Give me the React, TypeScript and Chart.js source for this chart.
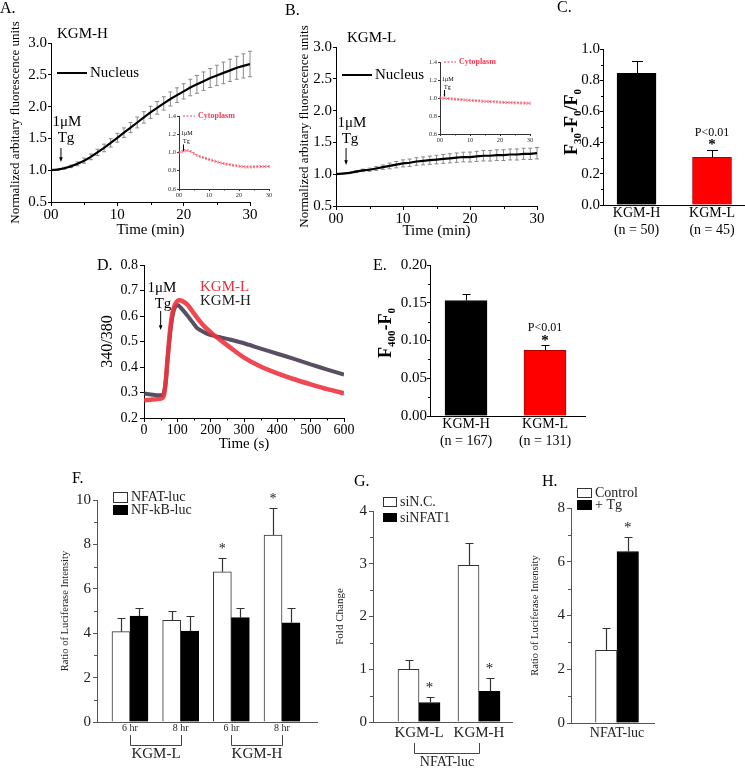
import React, { useEffect, useRef } from 'react';
import { Chart, registerables } from 'chart.js';
Chart.register(...registerables);

const W = 745;
const H = 768;
const SERIF = '"Liberation Serif", "Times New Roman", Times, serif';

// ---------------- data ----------------
const minutes = [0, 1, 2, 3, 4, 5, 6, 7, 8, 9, 10, 11, 12, 13, 14, 15, 16, 17, 18, 19, 20, 21, 22, 23, 24, 25, 26, 27, 28, 29, 30];
const nucleusKGMH = [1.0, 1.01, 1.03, 1.06, 1.1, 1.15, 1.21, 1.28, 1.35, 1.43, 1.51, 1.59, 1.67, 1.75, 1.83, 1.91, 1.98, 2.05, 2.12, 2.18, 2.24, 2.3, 2.35, 2.4, 2.45, 2.49, 2.53, 2.57, 2.61, 2.64, 2.67];
const nucleusKGMHErr = [0, 0.01, 0.015, 0.02, 0.03, 0.04, 0.045, 0.05, 0.06, 0.065, 0.07, 0.075, 0.08, 0.085, 0.09, 0.095, 0.1, 0.105, 0.11, 0.115, 0.12, 0.13, 0.14, 0.145, 0.15, 0.16, 0.17, 0.175, 0.18, 0.19, 0.2];
const nucleusKGML = [1.0, 1.01, 1.02, 1.04, 1.06, 1.07, 1.09, 1.11, 1.13, 1.15, 1.17, 1.18, 1.2, 1.21, 1.22, 1.23, 1.24, 1.25, 1.26, 1.27, 1.27, 1.28, 1.29, 1.29, 1.3, 1.3, 1.31, 1.31, 1.32, 1.32, 1.33];
const nucleusKGMLErr = [0, 0.005, 0.01, 0.015, 0.02, 0.025, 0.03, 0.035, 0.045, 0.05, 0.055, 0.058, 0.06, 0.062, 0.065, 0.067, 0.07, 0.072, 0.074, 0.076, 0.078, 0.08, 0.082, 0.083, 0.084, 0.085, 0.086, 0.087, 0.088, 0.089, 0.09];
const cytoKGMH = [1.0, 1.01, 1.02, 1.02, 1.01, 0.99, 0.97, 0.955, 0.945, 0.935, 0.925, 0.915, 0.905, 0.895, 0.885, 0.878, 0.872, 0.866, 0.86, 0.855, 0.85, 0.846, 0.843, 0.842, 0.842, 0.843, 0.844, 0.845, 0.846, 0.847, 0.848];
const cytoKGML = [1.0, 0.998, 0.996, 0.993, 0.99, 0.987, 0.984, 0.982, 0.979, 0.977, 0.975, 0.972, 0.97, 0.968, 0.966, 0.964, 0.962, 0.96, 0.958, 0.956, 0.954, 0.952, 0.951, 0.949, 0.948, 0.947, 0.946, 0.945, 0.944, 0.943, 0.942];
const tgMinute = 1.5;
const minuteTicks = [0, 10, 20, 30];
const nucleusTicksY = [0.5, 1.0, 1.5, 2.0, 2.5, 3.0];
const insetTicksY = [0.6, 0.8, 1.0, 1.2, 1.4];

const cGroups = ['KGM-H', 'KGM-L'];
const cNs = ['(n = 50)', '(n = 45)'];
const cValues = [0.844, 0.305];
const cErrs = [0.076, 0.05];
const cTicksY = [0, 0.2, 0.4, 0.6, 0.8, 1.0];

const dTimes = [0, 20, 40, 55, 60, 65, 70, 75, 80, 85, 90, 95, 100, 105, 110, 120, 130, 140, 150, 160, 175, 190, 210, 230, 260, 300, 350, 400, 450, 500, 550, 600];
const dKGMH = [0.296, 0.292, 0.289, 0.29, 0.3, 0.34, 0.42, 0.49, 0.55, 0.595, 0.625, 0.638, 0.642, 0.64, 0.633, 0.618, 0.602, 0.585, 0.568, 0.552, 0.54, 0.53, 0.522, 0.516, 0.507, 0.493, 0.472, 0.452, 0.432, 0.41, 0.39, 0.37];
const dKGML = [0.27, 0.272, 0.274, 0.278, 0.29, 0.34, 0.42, 0.5, 0.565, 0.61, 0.635, 0.65, 0.658, 0.662, 0.661, 0.655, 0.645, 0.628, 0.61, 0.592, 0.568, 0.548, 0.525, 0.505, 0.475, 0.437, 0.402, 0.375, 0.352, 0.332, 0.313, 0.297];
const tgSecond = 50;
const dTicksX = [0, 100, 200, 300, 400, 500, 600];
const dTicksY = [0.2, 0.3, 0.4, 0.5, 0.6, 0.7, 0.8];

const eGroups = ['KGM-H', 'KGM-L'];
const eNs = ['(n = 167)', '(n = 131)'];
const eValues = [0.153, 0.087];
const eErrs = [0.008, 0.007];
const eTicksY = [0, 0.05, 0.1, 0.15, 0.2];

const fTimes = ['6 hr', '8 hr', '6 hr', '8 hr'];
const fCells = ['KGM-L', 'KGM-H'];
const fNFAT = [4.07, 4.58, 6.77, 8.42];
const fNFATErr = [0.63, 0.41, 0.6, 1.22];
const fNFkB = [4.77, 4.1, 4.7, 4.47];
const fNFkBErr = [0.36, 0.68, 0.43, 0.66];
const fSig = [false, false, true, true];
const fTicksY = [0, 2, 4, 6, 8, 10];

const gCells = ['KGM-L', 'KGM-H'];
const gSiNC = [1.0, 2.97];
const gSiNCErr = [0.17, 0.43];
const gSiNFAT1 = [0.37, 0.58];
const gSiNFAT1Err = [0.11, 0.25];
const gTicksY = [0, 1, 2, 3, 4];

const hGroups = ['NFAT-luc'];
const hControl = [2.7];
const hControlErr = [0.82];
const hTg = [6.38];
const hTgErr = [0.55];
const hTicksY = [0, 2, 4, 6, 8];

// ---------------- helpers ----------------
type Box = { l: number; t: number; r: number; b: number; yw: number; xh: number };

function base(box: Box, scales: any) {
  return {
    responsive: false,
    animation: false,
    events: [],
    layout: { padding: { left: box.l - box.yw, top: box.t, right: W - box.r, bottom: H - box.b - box.xh } },
    plugins: { legend: { display: false }, tooltip: { enabled: false }, title: { display: false } },
    scales,
  };
}

function axis(o: any) {
  const color = o.color ?? '#000';
  const line = o.lineColor ?? color;
  const tick = o.tick ?? 4;
  return {
    type: 'linear',
    position: o.pos,
    min: o.min,
    max: o.max,
    offset: false,
    afterBuildTicks: o.values ? (s: any) => { s.ticks = o.values.map((v: number) => ({ value: v })); } : undefined,
    ticks: {
      autoSkip: false, maxRotation: 0, minRotation: 0,
      padding: o.pad ?? 1, color,
      font: { family: SERIF, size: o.size },
      callback: (v: any, i: number) => (o.fmt ? o.fmt(Number(v), i) : v),
    },
    grid: { display: true, drawOnChartArea: false, drawTicks: tick > 0, tickLength: tick, color: line, offset: false },
    border: { display: true, color: line, width: 1 },
    title: o.title
      ? { display: true, text: o.title, color, padding: 0, font: { family: SERIF, size: o.titleSize } }
      : { display: false },
    afterFit: (s: any) => { if (o.pos === 'left') s.width = o.fit; else s.height = o.fit; },
  };
}

function txt(ctx: CanvasRenderingContext2D, s: string, x: number, y: number, o: any = {}) {
  ctx.save();
  ctx.font = `${o.bold ? 'bold ' : ''}${o.size ?? 15}px ${SERIF}`;
  ctx.fillStyle = o.color ?? '#000';
  ctx.textAlign = o.align ?? 'left';
  ctx.textBaseline = 'middle';
  ctx.fillText(s, x, y);
  ctx.restore();
}

function richV(ctx: CanvasRenderingContext2D, parts: { t: string; sub?: boolean }[], cx: number, cy: number, size: number) {
  ctx.save();
  ctx.translate(cx, cy);
  ctx.rotate(-Math.PI / 2);
  ctx.fillStyle = '#000';
  ctx.textBaseline = 'middle';
  ctx.textAlign = 'left';
  const fontOf = (p: any) => `bold ${p.sub ? Math.round(size * 0.62) : size}px ${SERIF}`;
  let total = 0;
  const ws = parts.map((p) => { ctx.font = fontOf(p); const w = ctx.measureText(p.t).width; total += w; return w; });
  let x = -total / 2;
  parts.forEach((p, i) => { ctx.font = fontOf(p); ctx.fillText(p.t, x, p.sub ? size * 0.32 : 0); x += ws[i]; });
  ctx.restore();
}

function line(ctx: CanvasRenderingContext2D, pts: number[][], color = '#000', width = 1, dash: number[] = []) {
  ctx.save();
  ctx.strokeStyle = color;
  ctx.lineWidth = width;
  ctx.setLineDash(dash);
  ctx.beginPath();
  pts.forEach((p, i) => (i ? ctx.lineTo(p[0], p[1]) : ctx.moveTo(p[0], p[1])));
  ctx.stroke();
  ctx.restore();
}

function arrowDown(ctx: CanvasRenderingContext2D, x: number, y1: number, y2: number, head = 3, color = '#000') {
  line(ctx, [[x, y1], [x, y2 - head]], color, 1);
  ctx.save();
  ctx.fillStyle = color;
  ctx.beginPath();
  ctx.moveTo(x - head * 0.6, y2 - head * 1.6);
  ctx.lineTo(x + head * 0.6, y2 - head * 1.6);
  ctx.lineTo(x, y2);
  ctx.closePath();
  ctx.fill();
  ctx.restore();
}

function rect(ctx: CanvasRenderingContext2D, x: number, y: number, w: number, h: number, fill: string, stroke = '#333') {
  ctx.save();
  ctx.fillStyle = fill;
  ctx.fillRect(x, y, w, h);
  ctx.strokeStyle = stroke;
  ctx.lineWidth = 1;
  ctx.strokeRect(x + 0.5, y + 0.5, w - 1, h - 1);
  ctx.restore();
}

function drawMinor(chart: any, id: string, step: number, len: number, color: string) {
  const s = chart.scales[id];
  const ctx = chart.ctx;
  const majors = s.ticks.map((t: any) => t.value);
  ctx.save();
  ctx.strokeStyle = color;
  ctx.lineWidth = 1;
  ctx.beginPath();
  const n0 = Math.ceil(s.min / step - 1e-6);
  const n1 = Math.floor(s.max / step + 1e-6);
  for (let k = n0; k <= n1; k++) {
    const v = k * step;
    if (majors.some((m: number) => Math.abs(m - v) < step * 0.01)) continue;
    const p = Math.round(s.getPixelForValue(v)) + 0.5;
    if (s.isHorizontal()) { ctx.moveTo(p, s.top); ctx.lineTo(p, s.top + len); }
    else { ctx.moveTo(s.right - len, p); ctx.lineTo(s.right, p); }
  }
  ctx.stroke();
  ctx.restore();
}

function lineErr(chart: any, di: number, values: number[], errs: number[], cap: number, color: string, width = 1) {
  const meta = chart.getDatasetMeta(di);
  const ys = chart.scales.y;
  const ctx = chart.ctx;
  ctx.save();
  ctx.strokeStyle = color;
  ctx.lineWidth = width;
  ctx.beginPath();
  meta.data.forEach((pt: any, i: number) => {
    const e = errs[i];
    if (!e) return;
    const y1 = ys.getPixelForValue(values[i] + e);
    const y2 = ys.getPixelForValue(values[i] - e);
    const x = pt.x;
    ctx.moveTo(x, y1); ctx.lineTo(x, y2);
    ctx.moveTo(x - cap / 2, y1); ctx.lineTo(x + cap / 2, y1);
    ctx.moveTo(x - cap / 2, y2); ctx.lineTo(x + cap / 2, y2);
  });
  ctx.stroke();
  ctx.restore();
}

function barErr(chart: any, di: number, values: number[], errs: number[], cap: number, color: string, width = 1) {
  const meta = chart.getDatasetMeta(di);
  const ys = chart.scales.y;
  const ctx = chart.ctx;
  ctx.save();
  ctx.strokeStyle = color;
  ctx.lineWidth = width;
  ctx.beginPath();
  meta.data.forEach((bar: any, i: number) => {
    const x = Math.round(bar.x) + 0.5;
    const y0 = ys.getPixelForValue(values[i]);
    const y1 = Math.round(ys.getPixelForValue(values[i] + errs[i])) + 0.5;
    ctx.moveTo(x, y0); ctx.lineTo(x, y1);
    ctx.moveTo(x - cap / 2, y1); ctx.lineTo(x + cap / 2, y1);
  });
  ctx.stroke();
  ctx.restore();
}

function errTop(chart: any, di: number, i: number, values: number[], errs: number[]) {
  const bar = chart.getDatasetMeta(di).data[i];
  return { x: bar.x, y: chart.scales.y.getPixelForValue(values[i] + errs[i]) };
}

const pts = (xs: number[], ys: number[]) => xs.map((x, i) => ({ x, y: ys[i] }));
const minuteFmt = (v: number) => (v === 0 ? '00' : String(v));

// ---------------- panel configs ----------------
function nucleusConfig(which: 'H' | 'L') {
  const isH = which === 'H';
  const values = isH ? nucleusKGMH : nucleusKGML;
  const errs = isH ? nucleusKGMHErr : nucleusKGMLErr;
  const box: Box = isH ? { l: 51, t: 43, r: 250, b: 202, yw: 43, xh: 37 } : { l: 336, t: 47, r: 537, b: 206, yw: 39, xh: 34 };
  return {
    type: 'line',
    data: { datasets: [{ data: pts(minutes, values), borderColor: '#000', borderWidth: 2.2, pointRadius: 0, tension: 0 }] },
    options: base(box, {
      x: axis({ pos: 'bottom', min: 0, max: 30, values: minuteTicks, size: 15, fmt: minuteFmt, fit: box.xh, title: 'Time (min)', titleSize: 15, tick: 4, pad: 0 }),
      y: axis({ pos: 'left', min: 0.5, max: 3.0, values: nucleusTicksY, size: 15, fmt: (v: number) => v.toFixed(1), fit: box.yw, title: 'Normalized arbitary fluorescence units', titleSize: 13, tick: 3, pad: 1 }),
    }),
    plugins: [{
      id: 'deco' + which,
      beforeDatasetsDraw(chart: any) { lineErr(chart, 0, values, errs, 4, '#8a8a8a', 1); },
      afterDraw(chart: any) {
        const ctx = chart.ctx;
        drawMinor(chart, 'x', 5, 3, '#000');
        const ax = chart.scales.x.getPixelForValue(tgMinute);
        if (isH) {
          txt(ctx, 'A.', 0, 9, { size: 16 });
          txt(ctx, 'KGM-H', 57, 34, { size: 15 });
          line(ctx, [[57, 73], [87, 73]], '#000', 2);
          txt(ctx, 'Nucleus', 90, 73, { size: 15 });
          txt(ctx, '1μM', 67, 122, { size: 15, align: 'center' });
          txt(ctx, 'Tg', 66, 138, { size: 15, align: 'center' });
          arrowDown(ctx, ax, 148, 162, 3);
        } else {
          txt(ctx, 'B.', 285, 11, { size: 16 });
          txt(ctx, 'KGM-L', 347, 38, { size: 15 });
          line(ctx, [[342, 75], [372, 75]], '#000', 2);
          txt(ctx, 'Nucleus', 375, 75, { size: 15 });
          txt(ctx, '1μM', 352, 123, { size: 15, align: 'center' });
          txt(ctx, 'Tg', 350, 139, { size: 15, align: 'center' });
          arrowDown(ctx, ax, 148, 165, 3);
        }
      },
    }],
  };
}

function insetConfig(which: 'H' | 'L') {
  const isH = which === 'H';
  const values = isH ? cytoKGMH : cytoKGML;
  const box: Box = isH ? { l: 179, t: 116, r: 269, b: 189, yw: 18, xh: 12 } : { l: 440, t: 62, r: 530, b: 134, yw: 18, xh: 12 };
  const red = '#f03c50';
  const errs = values.map(() => 0.012);
  return {
    type: 'line',
    data: { datasets: [{ data: pts(minutes, values), borderColor: red, borderWidth: 1, borderDash: [2, 1.5], pointRadius: 0, tension: 0 }] },
    options: base(box, {
      x: axis({ pos: 'bottom', min: 0, max: 30, values: minuteTicks, size: 6.5, fmt: minuteFmt, fit: box.xh, tick: 2, pad: 0, color: '#333' }),
      y: axis({ pos: 'left', min: 0.6, max: 1.4, values: insetTicksY, size: 6.5, fmt: (v: number) => v.toFixed(1), fit: box.yw, tick: 2, pad: 1, color: '#333' }),
    }),
    plugins: [{
      id: 'inset' + which,
      beforeDatasetsDraw(chart: any) { lineErr(chart, 0, values, errs, 1.5, '#f47a8a', 0.8); },
      afterDraw(chart: any) {
        const ctx = chart.ctx;
        drawMinor(chart, 'x', 5, 1.5, '#333');
        const ys = chart.scales.y.getPixelForValue(1.4);
        const ax = chart.scales.x.getPixelForValue(tgMinute);
        const lx = box.l + 4;
        line(ctx, [[lx, ys], [lx + 12, ys]], red, 1, [2, 1.5]);
        txt(ctx, 'Cytoplasm', lx + 15, ys, { size: 8, bold: true, color: red });
        const y1 = chart.scales.y.getPixelForValue(1.0);
        txt(ctx, '1μM', box.l + 2, y1 - 19, { size: 6 });
        txt(ctx, 'Tg', box.l + 4, y1 - 11, { size: 6 });
        arrowDown(ctx, ax, y1 - 8, y1 - 1, 1.5);
      },
    }],
  };
}

function cConfig() {
  const box: Box = { l: 603, t: 49, r: 745, b: 205, yw: 40, xh: 40 };
  return {
    type: 'bar',
    data: { datasets: [{ data: pts([0, 1], cValues), backgroundColor: ['#000', '#ff0000'], borderColor: ['#000', '#b00000'], borderWidth: 1, barThickness: 39 }] },
    options: base(box, {
      x: axis({ pos: 'bottom', min: -0.444, max: 1.437, values: [0, 1], size: 14, fmt: (_v: number, i: number) => [cGroups[i], cNs[i]], fit: box.xh, tick: 0, pad: 0 }),
      y: axis({ pos: 'left', min: 0, max: 1.0, values: cTicksY, size: 15, fmt: (v: number) => v.toFixed(1), fit: box.yw, tick: 3, pad: 0 }),
    }),
    plugins: [{
      id: 'decoC',
      afterDatasetsDraw(chart: any) { barErr(chart, 0, cValues, cErrs, 11, '#000', 1); },
      afterDraw(chart: any) {
        const ctx = chart.ctx;
        drawMinor(chart, 'y', 0.1, 2, '#000');
        txt(ctx, 'C.', 557, 8, { size: 16 });
        richV(ctx, [{ t: 'F' }, { t: '30', sub: true }, { t: '-F' }, { t: '0', sub: true }, { t: '/F' }, { t: '0', sub: true }], 572, 122, 18);
        const p = errTop(chart, 0, 1, cValues, cErrs);
        txt(ctx, 'P<0.01', p.x, p.y - 17, { size: 12, align: 'center' });
        txt(ctx, '*', p.x, p.y - 4, { size: 15, bold: true, align: 'center' });
      },
    }],
  };
}

function dConfig() {
  const box: Box = { l: 144, t: 265, r: 344, b: 418, yw: 46, xh: 35 };
  return {
    type: 'line',
    data: {
      datasets: [
        { data: pts(dTimes, dKGML), borderColor: 'rgba(238,52,62,0.9)', borderWidth: 4.5, pointRadius: 0, tension: 0.2 },
        { data: pts(dTimes, dKGMH), borderColor: 'rgba(70,60,82,0.9)', borderWidth: 4, pointRadius: 0, tension: 0.2 },
      ],
    },
    options: base(box, {
      x: axis({ pos: 'bottom', min: 0, max: 600, values: dTicksX, size: 14, fit: box.xh, title: 'Time (s)', titleSize: 15, tick: 4, pad: 0 }),
      y: axis({ pos: 'left', min: 0.2, max: 0.8, values: dTicksY, size: 14, fmt: (v: number) => v.toFixed(1), fit: box.yw, title: '340/380', titleSize: 16, tick: 4, pad: 2 }),
    }),
    plugins: [{
      id: 'decoD',
      afterDraw(chart: any) {
        const ctx = chart.ctx;
        drawMinor(chart, 'x', 50, 2.5, '#000');
        txt(ctx, 'D.', 97, 266, { size: 16 });
        txt(ctx, '1μM', 162, 288, { size: 15, align: 'center' });
        txt(ctx, 'Tg', 163, 304, { size: 15, align: 'center' });
        arrowDown(ctx, chart.scales.x.getPixelForValue(tgSecond), 311, 330, 3);
        txt(ctx, 'KGM-L', 200, 287, { size: 15, color: '#e8303a' });
        txt(ctx, 'KGM-H', 200, 301, { size: 15, color: '#222' });
      },
    }],
  };
}

function eConfig() {
  const box: Box = { l: 430, t: 265, r: 585, b: 416, yw: 42, xh: 40 };
  return {
    type: 'bar',
    data: { datasets: [{ data: pts([0, 1], eValues), backgroundColor: ['#000', '#ff0000'], borderColor: ['#000', '#b00000'], borderWidth: 1, barThickness: 42 }] },
    options: base(box, {
      x: axis({ pos: 'bottom', min: -0.456, max: 1.506, values: [0, 1], size: 14, fmt: (_v: number, i: number) => [eGroups[i], eNs[i]], fit: box.xh, tick: 0, pad: 0 }),
      y: axis({ pos: 'left', min: 0, max: 0.2, values: eTicksY, size: 15, fmt: (v: number) => v.toFixed(2), fit: box.yw, tick: 3, pad: 0 }),
    }),
    plugins: [{
      id: 'decoE',
      afterDatasetsDraw(chart: any) { barErr(chart, 0, eValues, eErrs, 8, '#000', 1); },
      afterDraw(chart: any) {
        const ctx = chart.ctx;
        drawMinor(chart, 'y', 0.025, 2, '#000');
        txt(ctx, 'E.', 373, 266, { size: 16 });
        richV(ctx, [{ t: 'F' }, { t: '400', sub: true }, { t: '-F' }, { t: '0', sub: true }], 386, 333, 18);
        const p = errTop(chart, 0, 1, eValues, eErrs);
        txt(ctx, 'P<0.01', p.x, p.y - 17, { size: 12, align: 'center' });
        txt(ctx, '*', p.x, p.y - 4, { size: 15, bold: true, align: 'center' });
      },
    }],
  };
}

const grey = '#333';

function fConfig() {
  const box: Box = { l: 97, t: 500, r: 317, b: 722, yw: 38, xh: 20 };
  const idx = [0, 1, 2, 3];
  return {
    type: 'bar',
    data: {
      datasets: [
        { data: pts(idx, fNFAT), backgroundColor: '#fff', borderColor: grey, borderWidth: 1, barThickness: 18 },
        { data: pts(idx, fNFkB), backgroundColor: '#000', borderColor: '#000', borderWidth: 1, barThickness: 18 },
      ],
    },
    options: base(box, {
      x: axis({ pos: 'bottom', min: -0.651, max: 3.69, values: idx, size: 10, fmt: (_v: number, i: number) => fTimes[i], fit: box.xh, tick: 0, pad: 0, color: '#222', lineColor: '#555' }),
      y: axis({ pos: 'left', min: 0, max: 10, values: fTicksY, size: 15, fmt: (v: number) => String(v), fit: box.yw, title: 'Ratio of Luciferase Intensity', titleSize: 10.5, tick: 4, pad: 2, color: '#222', lineColor: '#555' }),
    }),
    plugins: [{
      id: 'decoF',
      afterDatasetsDraw(chart: any) {
        barErr(chart, 0, fNFAT, fNFATErr, 8, grey, 1.2);
        barErr(chart, 1, fNFkB, fNFkBErr, 8, grey, 1.2);
      },
      afterDraw(chart: any) {
        const ctx = chart.ctx;
        drawMinor(chart, 'y', 1, 3, '#555');
        txt(ctx, 'F.', 72, 479, { size: 16 });
        rect(ctx, 113, 492, 15, 11, '#fff');
        rect(ctx, 113, 505, 15, 10, '#000', '#000');
        txt(ctx, 'NFAT-luc', 131, 497, { size: 14, color: '#222' });
        txt(ctx, 'NF-kB-luc', 131, 510, { size: 14, color: '#222' });
        fSig.forEach((s, i) => {
          if (!s) return;
          const p = errTop(chart, 0, i, fNFAT, fNFATErr);
          txt(ctx, '*', p.x, p.y - 9, { size: 14, align: 'center', color: '#222' });
        });
        const xs = chart.scales.x;
        fCells.forEach((c, g) => {
          const x1 = Math.round(xs.getPixelForValue(g * 2)) + 0.5;
          const x2 = Math.round(xs.getPixelForValue(g * 2 + 1)) + 0.5;
          line(ctx, [[x1, 735], [x1, 745.5], [x2, 745.5], [x2, 735]], '#444', 1);
          txt(ctx, c, (x1 + x2) / 2, 754, { size: 15, align: 'center', color: '#222' });
        });
      },
    }],
  };
}

function gConfig() {
  const box: Box = { l: 373, t: 511, r: 512, b: 722, yw: 39, xh: 24 };
  const idx = [0, 1];
  return {
    type: 'bar',
    data: {
      datasets: [
        { data: pts(idx, gSiNC), backgroundColor: '#fff', borderColor: grey, borderWidth: 1, barThickness: 21 },
        { data: pts(idx, gSiNFAT1), backgroundColor: '#000', borderColor: '#000', borderWidth: 1, barThickness: 21 },
      ],
    },
    options: base(box, {
      x: axis({ pos: 'bottom', min: -0.767, max: 1.55, values: idx, size: 15, fmt: (_v: number, i: number) => gCells[i], fit: box.xh, tick: 0, pad: 2, color: '#222', lineColor: '#555' }),
      y: axis({ pos: 'left', min: 0, max: 4, values: gTicksY, size: 15, fmt: (v: number) => String(v), fit: box.yw, title: 'Fold Change', titleSize: 11, tick: 4, pad: 2, color: '#222', lineColor: '#555' }),
    }),
    plugins: [{
      id: 'decoG',
      afterDatasetsDraw(chart: any) {
        barErr(chart, 0, gSiNC, gSiNCErr, 8, grey, 1.2);
        barErr(chart, 1, gSiNFAT1, gSiNFAT1Err, 8, grey, 1.2);
      },
      afterDraw(chart: any) {
        const ctx = chart.ctx;
        drawMinor(chart, 'y', 0.5, 3, '#555');
        txt(ctx, 'G.', 354, 482, { size: 16 });
        rect(ctx, 383, 497, 14, 10, '#fff');
        rect(ctx, 383, 513, 14, 9, '#000', '#000');
        txt(ctx, 'siN.C.', 400, 502, { size: 14, color: '#222' });
        txt(ctx, 'siNFAT1', 400, 518, { size: 14, color: '#222' });
        idx.forEach((i) => {
          const p = errTop(chart, 1, i, gSiNFAT1, gSiNFAT1Err);
          txt(ctx, '*', p.x, p.y - 9, { size: 15, align: 'center', color: '#222' });
        });
        const xs = chart.scales.x;
        const x1 = Math.round(xs.getPixelForValue(0)) - 4.5;
        const x2 = Math.round(xs.getPixelForValue(1)) + 0.5;
        line(ctx, [[x1, 743], [x1, 753.5], [x2, 753.5], [x2, 743]], '#444', 1);
        txt(ctx, 'NFAT-luc', (x1 + x2) / 2, 762, { size: 14, align: 'center', color: '#222' });
      },
    }],
  };
}

function hConfig() {
  const box: Box = { l: 571, t: 508, r: 654, b: 723, yw: 42, xh: 24 };
  const idx = [0];
  return {
    type: 'bar',
    data: {
      datasets: [
        { data: pts(idx, hControl), backgroundColor: '#fff', borderColor: grey, borderWidth: 1, barThickness: 21.5 },
        { data: pts(idx, hTg), backgroundColor: '#000', borderColor: '#000', borderWidth: 1, barThickness: 21.5 },
      ],
    },
    options: base(box, {
      x: axis({ pos: 'bottom', min: -1, max: 0.804, values: idx, size: 14, fmt: (_v: number, i: number) => hGroups[i], fit: box.xh, tick: 0, pad: 2, color: '#222', lineColor: '#555' }),
      y: axis({ pos: 'left', min: 0, max: 8, values: hTicksY, size: 15, fmt: (v: number) => String(v), fit: box.yw, title: 'Ratio of Luciferase Intensity', titleSize: 10.5, tick: 4, pad: 2, color: '#222', lineColor: '#555' }),
    }),
    plugins: [{
      id: 'decoH',
      afterDatasetsDraw(chart: any) {
        barErr(chart, 0, hControl, hControlErr, 8, grey, 1.2);
        barErr(chart, 1, hTg, hTgErr, 8, grey, 1.2);
      },
      afterDraw(chart: any) {
        const ctx = chart.ctx;
        drawMinor(chart, 'y', 1, 3, '#555');
        txt(ctx, 'H.', 542, 482, { size: 16 });
        rect(ctx, 577, 488, 15, 10, '#fff');
        rect(ctx, 577, 500, 15, 10, '#000', '#000');
        txt(ctx, 'Control', 595, 493, { size: 14, color: '#222' });
        txt(ctx, '+ Tg', 595, 505, { size: 14, color: '#222' });
        const p = errTop(chart, 1, 0, hTg, hTgErr);
        txt(ctx, '*', p.x, p.y - 9, { size: 15, align: 'center', color: '#222' });
      },
    }],
  };
}

// ---------------- components ----------------
function ChartCanvas({ make }: { make: () => any }) {
  const ref = useRef<HTMLCanvasElement>(null);
  useEffect(() => {
    const chart = new Chart(ref.current as HTMLCanvasElement, make());
    return () => chart.destroy();
  }, []);
  return (
    <canvas
      ref={ref}
      width={W}
      height={H}
      style={{ position: 'absolute', left: 0, top: 0, width: W, height: H }}
    />
  );
}

export default function App() {
  const makers = [
    () => nucleusConfig('H'),
    () => insetConfig('H'),
    () => nucleusConfig('L'),
    () => insetConfig('L'),
    cConfig,
    dConfig,
    eConfig,
    fConfig,
    gConfig,
    hConfig,
  ];
  return (
    <div style={{ position: 'absolute', left: 0, top: 0, width: W, height: H, background: '#fff', overflow: 'hidden' }}>
      {makers.map((m, i) => (
        <ChartCanvas key={i} make={m} />
      ))}
    </div>
  );
}
